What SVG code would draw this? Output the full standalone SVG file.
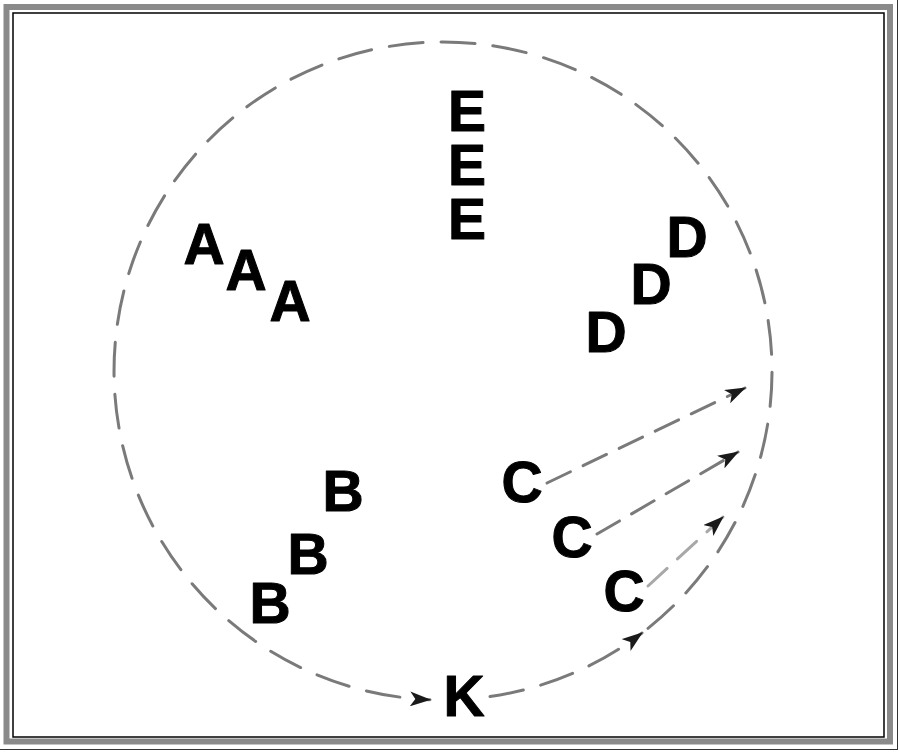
<svg xmlns="http://www.w3.org/2000/svg" width="900" height="752" viewBox="0 0 900 752">
  <style>
    .lbl { font-family: "Liberation Sans", Arial, sans-serif; font-weight: bold; font-size: 57px; fill: #000; stroke: #000; stroke-width: 1; stroke-linejoin: round; text-anchor: middle; }
    .ring { fill: none; stroke: #7a7a7a; stroke-width: 3; stroke-dasharray: 34 18; stroke-linecap: round; }
    .edge { fill: none; stroke: #7a7a7a; stroke-width: 3; stroke-dasharray: 26 14; stroke-linecap: round; }
    .light { stroke: #a8a8a8; }
  </style>
  <defs>
    <marker id="arr" markerUnits="userSpaceOnUse" viewBox="0 0 20 14" refX="19" refY="7" markerWidth="21" markerHeight="15" orient="auto">
      <path d="M0,0 L20,7 L0,14 L5,7 Z" fill="#1a1a1a"/>
    </marker>
  </defs>
  <rect width="900" height="752" fill="#fff"/>
  <!-- frame -->
  <rect x="6.5" y="7" width="883.5" height="734.5" fill="none" stroke="#8a8a8a" stroke-width="6"/>
  <rect x="13" y="13" width="871" height="724" fill="none" stroke="#000" stroke-width="1.5"/>
  <line x1="897.5" y1="0" x2="897.5" y2="750" stroke="#333" stroke-width="1"/>
  <line x1="0" y1="749.5" x2="898" y2="749.5" stroke="#333" stroke-width="1"/>

  <g id="connectors">
    <path class="ring" d="M648,628.3 A329,329 0 1 0 430,699.7" marker-end="url(#arr)"/>
    <path class="ring" d="M490,696.6 A329,329 0 0 0 642,633" marker-end="url(#arr)"/>
    <path class="edge" d="M547,483 L745,388" marker-end="url(#arr)"/>
    <path class="edge" d="M597,534 L738,452" marker-end="url(#arr)"/>
    <path class="edge light" d="M648,586 L723,517" marker-end="url(#arr)"/>
  </g>

  <g id="nE1"><text class="lbl" x="467" y="131">E</text></g>
  <g id="nE2"><text class="lbl" x="467" y="185">E</text></g>
  <g id="nE3"><text class="lbl" x="467" y="239">E</text></g>

  <g id="nA1"><text class="lbl" x="204" y="264">A</text></g>
  <g id="nA2"><text class="lbl" x="246" y="290">A</text></g>
  <g id="nA3"><text class="lbl" x="290" y="321">A</text></g>

  <g id="nD1"><text class="lbl" x="606" y="352">D</text></g>
  <g id="nD2"><text class="lbl" x="651" y="304">D</text></g>
  <g id="nD3"><text class="lbl" x="687" y="257">D</text></g>

  <g id="nB1"><text class="lbl" x="343" y="511">B</text></g>
  <g id="nB2"><text class="lbl" x="308" y="574">B</text></g>
  <g id="nB3"><text class="lbl" x="270" y="623">B</text></g>

  <g id="nC1"><text class="lbl" x="522" y="502">C</text></g>
  <g id="nC2"><text class="lbl" x="572" y="557">C</text></g>
  <g id="nC3"><text class="lbl" x="624" y="611">C</text></g>

  <g id="nK"><text class="lbl" x="464" y="716">K</text></g>
</svg>
